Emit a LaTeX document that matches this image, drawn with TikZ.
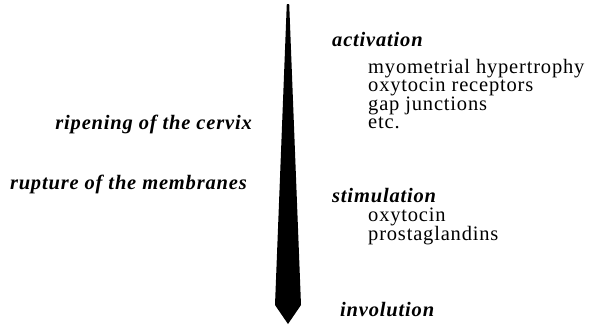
\documentclass[tikz,border=0pt]{standalone}
\usepackage{fontspec}
\setmainfont[LetterSpace=4]{Liberation Serif}
\begin{document}
\begin{tikzpicture}[x=1pt,y=-1pt,
  txt/.style={inner sep=0pt,font=\fontsize{20.5}{18.5}\selectfont},
  head/.style={txt,anchor=base west,font=\fontsize{20.5}{18.5}\selectfont\bfseries\itshape},
  item/.style={txt,anchor=base west},
  side/.style={txt,anchor=base east,font=\fontsize{20.5}{18.5}\selectfont\bfseries\itshape}]
\useasboundingbox (0,0) rectangle (590,325);
\fill[black] (286.8,4) -- (289.2,4) -- (301,305) -- (288,324) -- (275,305) -- cycle;
\node[head] (act) at (332,46) {activation};
\node[item] (i1) at (368,73) {myometrial hypertrophy};
\node[item] (i2) at (368,91.6) {oxytocin receptors};
\node[item] (i3) at (368,110.2) {gap junctions};
\node[item] (i4) at (368,128.8) {etc.};
\node[side] (rip) at (252,129) {ripening of the cervix};
\node[side] (rup) at (247,189) {rupture of the membranes};
\node[head] (sti) at (332,202) {stimulation};
\node[item] (s1) at (368,221) {oxytocin};
\node[item] (s2) at (368,240) {prostaglandins};
\node[head] (inv) at (340,316) {involution};
\end{tikzpicture}
\end{document}
